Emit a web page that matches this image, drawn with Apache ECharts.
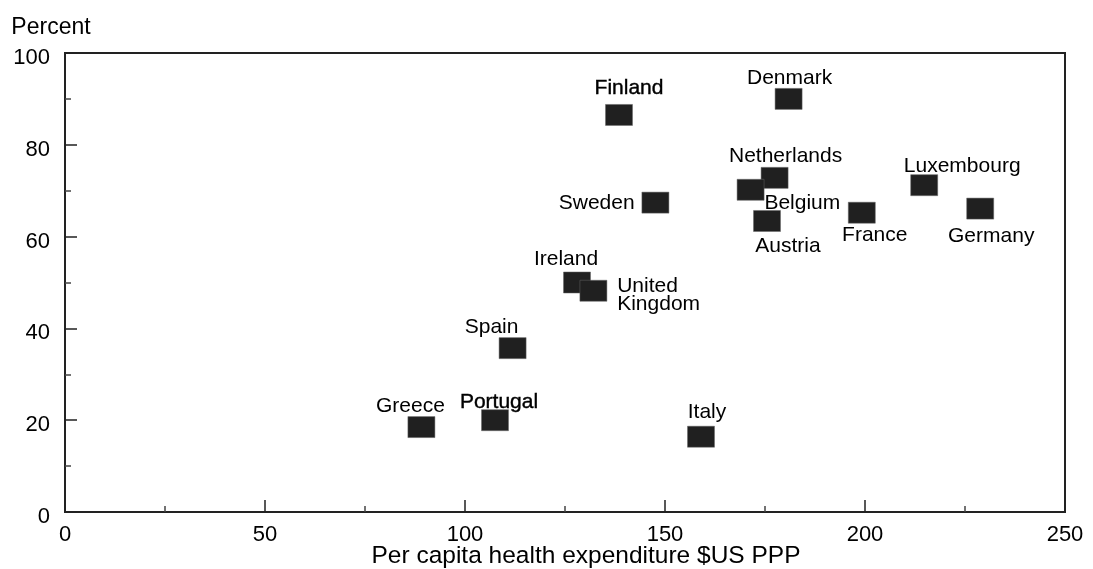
<!DOCTYPE html>
<html>
<head>
<meta charset="utf-8">
<script src="https://cdn.jsdelivr.net/npm/echarts@6/dist/echarts.min.js"></script>
<style>
html,body{margin:0;padding:0;background:#fff;}
#chart{width:1093px;height:569px;}
</style>
</head>
<body>
<div id="chart"></div>
<script>
// Data
var countries = ["Finland","Denmark","Netherlands","Belgium","Austria","Sweden","Luxembourg","France","Germany","Ireland","United\nKingdom","Spain","Greece","Portugal","Italy"];
var expenditure = [138.5, 180.9, 177.4, 171.4, 175.5, 147.6, 214.8, 199.2, 228.8, 128.0, 132.1, 111.9, 89.1, 107.5, 159.0];
var percent = [86.5, 90.0, 72.8, 70.2, 63.4, 67.4, 71.2, 65.2, 66.1, 50.0, 48.2, 35.7, 18.5, 20.0, 16.4];
var xTicks = [0, 50, 100, 150, 200, 250];
var yTicks = [0, 20, 40, 60, 80, 100];

// Label placement (style only)
var labelPlacement = {
  "Finland":      {position:"inside", offset:[10,-27], heavy:true},
  "Denmark":      {position:"inside", offset:[1,-21]},
  "Netherlands":  {position:"inside", offset:[11,-22]},
  "Belgium":      {position:"right", distance:0, offset:[0,13]},
  "Austria":      {position:"inside", offset:[21,25]},
  "Sweden":       {position:"left", distance:7, offset:[0,1]},
  "Luxembourg":   {position:"inside", offset:[38,-19]},
  "France":       {position:"inside", offset:[13,22]},
  "Germany":      {position:"inside", offset:[11,28]},
  "Ireland":      {position:"inside", offset:[-11,-23]},
  "United\nKingdom": {position:"right", distance:10, offset:[0,4], align:"left"},
  "Spain":        {position:"inside", offset:[-21,-21]},
  "Greece":       {position:"inside", offset:[-11,-21]},
  "Portugal":     {position:"inside", offset:[4,-18], heavy:true},
  "Italy":        {position:"inside", offset:[6,-25]}
};

var FONT = "'Liberation Sans', Arial, sans-serif";
var points = countries.map(function(c, i){
  var lp = labelPlacement[c];
  var lbl = {show:true, formatter:c, position:lp.position, offset:lp.offset,
             color:'#000', fontSize:21, fontFamily:FONT, lineHeight:18};
  if (lp.distance !== undefined) lbl.distance = lp.distance;
  if (lp.align) lbl.align = lp.align;
  if (lp.heavy) { lbl.textBorderColor = '#000'; lbl.textBorderWidth = 0.4; }
  return {name:c, value:[expenditure[i], percent[i]], label:lbl};
});

var chart = echarts.init(document.getElementById('chart'), null, {renderer:'canvas'});
chart.setOption({
  animation:false,
  backgroundColor:'#fff',
  textStyle:{fontFamily:FONT},
  grid:{left:65, right:28, top:53, bottom:57, containLabel:false, outerBoundsMode:'none',
        show:true, borderColor:'#222', borderWidth:2, backgroundColor:'transparent'},
  xAxis:{
    type:'value', min:xTicks[0], max:xTicks[xTicks.length-1], interval:50,
    name:'Per capita health expenditure $US PPP', nameLocation:'middle', nameGap:32,
    nameMoveOverlap:false,
    nameTextStyle:{fontSize:24.5, color:'#000', fontFamily:FONT, padding:[0,0,0,42]},
    axisLine:{show:true, lineStyle:{color:'#222', width:2}},
    axisTick:{show:true, inside:true, length:12, lineStyle:{color:'#222', width:1.5}},
    minorTick:{show:true, splitNumber:2, length:6, lineStyle:{color:'#444', width:1.5}},
    axisLabel:{fontSize:22, color:'#000', margin:12, fontFamily:FONT},
    splitLine:{show:false}
  },
  yAxis:{
    type:'value', min:yTicks[0], max:yTicks[yTicks.length-1], interval:20,
    name:'Percent', nameLocation:'end', nameGap:14,
    nameTextStyle:{fontSize:23, color:'#000', fontFamily:FONT, align:'center', padding:[0,28,0,0]},
    axisLine:{show:true, lineStyle:{color:'#222', width:2}},
    axisTick:{show:true, inside:true, length:12, lineStyle:{color:'#222', width:1.5}},
    minorTick:{show:true, splitNumber:2, length:6, lineStyle:{color:'#444', width:1.5}},
    axisLabel:{margin:15, formatter:'{v|{value}}',
      rich:{v:{fontSize:22, color:'#000', fontFamily:FONT, padding:[10,0,0,0]}}},
    splitLine:{show:false}
  },
  series:[{
    type:'scatter',
    symbol:'rect',
    symbolSize:[27,21],
    itemStyle:{color:'#202020', opacity:1, borderColor:'#666', borderWidth:0.5},
    data:points
  }]
});
</script>
</body>
</html>
